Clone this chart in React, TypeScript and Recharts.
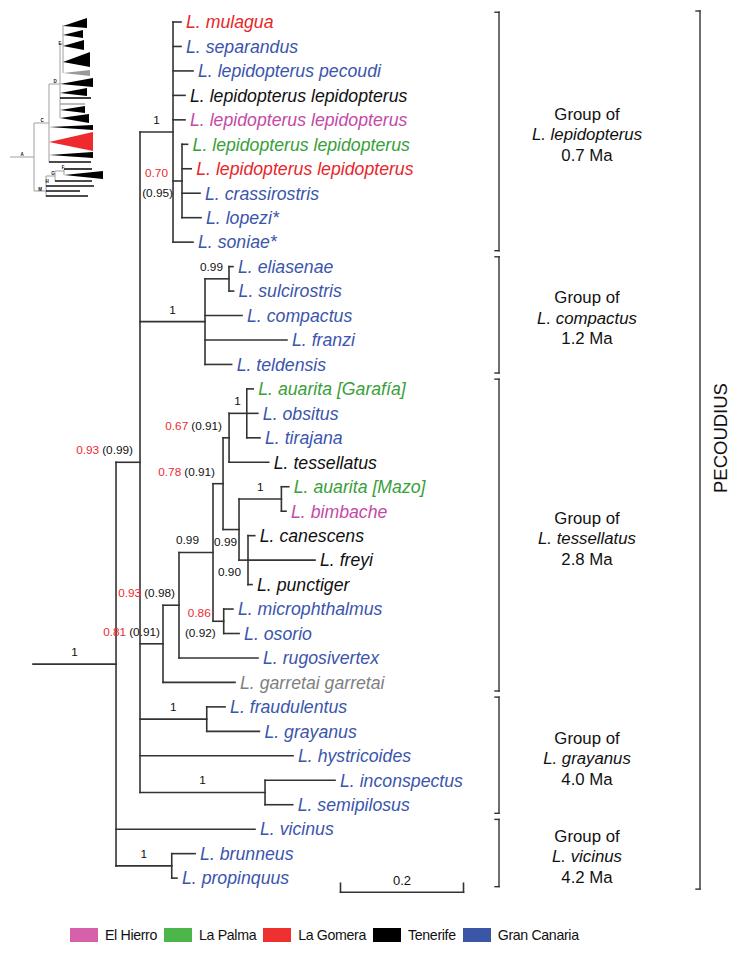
import React from 'react';
import { ComposedChart, XAxis, YAxis, ReferenceLine, Scatter, Legend } from 'recharts';

const W = 742;
const H = 959;
const FONT = "'Liberation Sans', Arial, Helvetica, sans-serif";

// ---------- islands ----------
const islandNames = ['El Hierro', 'La Palma', 'La Gomera', 'Tenerife', 'Gran Canaria'];
const islandSwatch = ['#d660a9', '#4cb64a', '#ee3130', '#000000', '#3a56a6'];
const islandText = ['#c44aa6', '#39a039', '#e8262b', '#111111', '#3b55ad'];
const otherText = '#808080';
const RED = '#ee2a2f';

// ---------- internal nodes (branch lengths, substitutions/site) ----------
const nodeIds = ['R', 'A', 'LEP', 'LEPs', 'COM', 'ELI', 'T1', 'T2', 'T3', 'T4', 'T5', 'T6', 'T7', 'T8', 'T9', 'T10', 'G1', 'G2', 'V1'];
const nodeParents = ['', 'R', 'A', 'LEP', 'A', 'COM', 'A', 'T1', 'T2', 'T3', 'T4', 'T5', 'T4', 'T7', 'T7', 'T3', 'A', 'A', 'R'];
const nodeLengths = [0.135, 0.039, 0.0537, 0.0146, 0.1057, 0.039, 0.0374, 0.026, 0.0553, 0.0163, 0.0098, 0.0288, 0.026, 0.0689, 0.0146, 0.0174, 0.1085, 0.2033, 0.0906];

// ---------- leaves ----------
const leafNames = [
  'L. mulagua', 'L. separandus', 'L. lepidopterus pecoudi', 'L. lepidopterus lepidopterus',
  'L. lepidopterus lepidopterus', 'L. lepidopterus lepidopterus', 'L. lepidopterus lepidopterus',
  'L. crassirostris', 'L. lopezi*', 'L. soniae*',
  'L. eliasenae', 'L. sulcirostris', 'L. compactus', 'L. franzi', 'L. teldensis',
  'L. auarita [Garafía]', 'L. obsitus', 'L. tirajana', 'L. tessellatus', 'L. auarita [Mazo]',
  'L. bimbache', 'L. canescens', 'L. freyi', 'L. punctiger', 'L. microphthalmus', 'L. osorio',
  'L. rugosivertex', 'L. garretai garretai',
  'L. fraudulentus', 'L. grayanus', 'L. hystricoides', 'L. inconspectus', 'L. semipilosus',
  'L. vicinus', 'L. brunneus', 'L. propinquus',
];
const leafParents = [
  'LEP', 'LEP', 'LEP', 'LEP', 'LEP', 'LEPs', 'LEPs', 'LEPs', 'LEPs', 'LEP',
  'ELI', 'ELI', 'COM', 'COM', 'COM',
  'T6', 'T6', 'T6', 'T5', 'T8', 'T8', 'T9', 'T9', 'T9', 'T10', 'T10', 'T2', 'T1',
  'G1', 'G1', 'A', 'G2', 'G2', 'R', 'V1', 'V1',
];
const leafLengths = [
  0.013, 0.013, 0.0325, 0.0195, 0.0195, 0.009, 0.015, 0.0293, 0.0309, 0.0325,
  0.0065, 0.0075, 0.0602, 0.1333, 0.0433,
  0.0105, 0.018, 0.0215, 0.0645, 0.012, 0.0075, 0.011, 0.1089, 0.0065, 0.015, 0.025, 0.1285, 0.1171,
  0.0298, 0.0856, 0.2488, 0.1138, 0.045, 0.226, 0.038, 0.0085,
];
// index into islandNames, -1 = not in legend (grey)
const leafIslands = [
  2, 4, 4, 3, 0, 1, 2, 4, 4, 4,
  4, 4, 4, 4, 4,
  1, 4, 4, 3, 1, 0, 3, 3, 3, 4, 4, 4, -1,
  4, 4, 4, 4, 4, 4, 4, 4,
];

// ---------- node supports ----------
const supportNodes = ['R', 'A', 'LEP', 'LEPs', 'COM', 'ELI', 'T1', 'T2', 'T3', 'T4', 'T5', 'T6', 'T7', 'T8', 'T9', 'T10', 'G1', 'G2', 'V1'];
const supportRed = ['', '0.93', '', '0.70', '', '', '0.81', '0.93', '', '0.78', '0.67', '', '', '', '', '0.86', '', '', ''];
const supportBlack = ['1', '(0.99)', '1', '(0.95)', '1', '0.99', '(0.91)', '(0.98)', '0.99', '(0.91)', '(0.91)', '1', '0.99', '1', '0.90', '(0.92)', '1', '1', '1'];
// placement style of each support label
const supportPlace = ['mid', 'above', 'mid', 'stack', 'mid', 'above', 'above', 'above', 'above', 'above', 'above', 'above', 'below', 'mid', 'below', 'stack', 'mid', 'mid', 'mid'];
const supportGap = [0, 7, 0, 14, 0, 6, 3, 4, 14, 8, 7, 6, 2, 0, 7, 13, 0, 0, 0];

// ---------- groups ----------
const groupNames = ['L. lepidopterus', 'L. compactus', 'L. tessellatus', 'L. grayanus', 'L. vicinus'];
const groupAges = ['0.7 Ma', '1.2 Ma', '2.8 Ma', '4.0 Ma', '4.2 Ma'];
const groupFirst = [0, 10, 15, 28, 33];
const groupLast = [9, 14, 27, 32, 35];
const cladeName = 'PECOUDIUS';

// ---------- scale bar ----------
const scaleBarLength = 0.2;
const scaleBarStart = 0.5;

// ---------- axis mapping (layout) ----------
const PX_PER_UNIT = 615;
const ORIGIN_PX = 33;
const ROW_PX = 24.46;
const FIRST_ROW_PX = 22;
const X_MIN = -ORIGIN_PX / PX_PER_UNIT;
const X_MAX = (W - ORIGIN_PX) / PX_PER_UNIT;
const Y_MIN = -FIRST_ROW_PX / ROW_PX;
const Y_MAX = Y_MIN + H / ROW_PX;
const BRACKET_X = (499 - ORIGIN_PX) / PX_PER_UNIT;
const GROUP_TEXT_X = (587 - ORIGIN_PX) / PX_PER_UNIT;
const CLADE_BRACKET_X = (700 - ORIGIN_PX) / PX_PER_UNIT;
const CLADE_TEXT_X = (720 - ORIGIN_PX) / PX_PER_UNIT;
const SERIF = 4 / PX_PER_UNIT;
const SCALE_ROW = 35.58;
const SCALE_TICK = 0.37;

// ---------- thumbnail (overview tree) ----------
const thumbConnectors = [
  [10, 157, 34, 157], [34, 123, 34, 191], [34, 123, 49, 123], [49, 84, 49, 162], [49, 84, 60, 84],
  [60, 44, 60, 118], [60, 44, 63, 44], [63, 25, 63, 73],
  [34, 191, 46, 191], [46, 176, 46, 197], [46, 176, 55, 176], [55, 171, 55, 181], [55, 171, 64, 171], [64, 169, 64, 175],
];
const thumbTips = [
  [60, 98, 91, 98, '#111'], [60, 104, 85, 104, '#aaaaaa'], [49, 162, 91, 162, '#111'],
  [64, 169, 92, 169, '#111'], [55, 181, 92, 181, '#111'], [46, 186, 94, 186, '#111'],
  [46, 191, 80, 191, '#111'], [46, 196, 88, 196, '#111'],
];
const thumbTriangles = [
  [63, 26, 87, 18, 28, '#000'], [63, 35, 83, 30, 38, '#000'], [63, 46, 84, 40, 50, '#000'],
  [63, 62, 90, 52, 67, '#000'], [63, 73, 90, 70, 76, '#9a9a9a'],
  [60, 84, 93, 78, 87, '#000'], [60, 93, 87, 88, 96, '#000'], [60, 110, 85, 106, 113, '#000'],
  [60, 118, 89, 114, 123, '#000'], [49, 127, 93, 125, 130, '#000'], [49, 142, 93, 132, 151, '#ee2a2f'],
  [49, 155, 93, 152, 158, '#000'], [64, 175, 103, 171, 179, '#000'],
];
const thumbLetters = [
  [22, 154, 'A'], [42, 120, 'C'], [55, 81, 'D'], [60, 43, 'E'], [63, 167, 'F'], [53, 173, 'G'], [47, 181, 'H'], [40, 189, 'M'],
];
const TW = 110;
const TH = 205;

// ---------- layout of tree ----------
function buildTree() {
  const depth: Record<string, number> = {};
  nodeIds.forEach((id, i) => {
    const p = nodeParents[i];
    depth[id] = (p ? depth[p] : 0) + nodeLengths[i];
  });
  const rowMemo: Record<string, number> = {};
  const childRows = (id: string): number[] => {
    const rows: number[] = [];
    leafParents.forEach((p, i) => { if (p === id) rows.push(i); });
    nodeIds.forEach((n, i) => { if (nodeParents[i] === id) rows.push(rowOf(n)); });
    return rows;
  };
  const rowOf = (id: string): number => {
    if (rowMemo[id] !== undefined) return rowMemo[id];
    const rows = childRows(id);
    const r = (Math.min(...rows) + Math.max(...rows)) / 2;
    rowMemo[id] = r;
    return r;
  };
  nodeIds.forEach((id) => rowOf(id));

  const segs: { x1: number; y1: number; x2: number; y2: number }[] = [];
  nodeIds.forEach((id, i) => {
    const rows = childRows(id);
    segs.push({ x1: depth[id], y1: Math.min(...rows), x2: depth[id], y2: Math.max(...rows) });
    const pd = nodeParents[i] ? depth[nodeParents[i]] : 0;
    segs.push({ x1: pd, y1: rowMemo[id], x2: depth[id], y2: rowMemo[id] });
  });
  const leaves = leafNames.map((name, i) => {
    const pd = depth[leafParents[i]];
    const end = pd + leafLengths[i];
    segs.push({ x1: pd, y1: i, x2: end, y2: i });
    const isl = leafIslands[i];
    return { x: end, y: i, name, color: isl >= 0 ? islandText[isl] : otherText };
  });
  const supports = supportNodes.map((id, i) => {
    const idx = nodeIds.indexOf(id);
    const pd = nodeParents[idx] ? depth[nodeParents[idx]] : 0;
    const place = supportPlace[i];
    return {
      x: place === 'mid' ? (pd + depth[id]) / 2 : depth[id],
      y: rowMemo[id],
      red: supportRed[i],
      black: supportBlack[i],
      place,
      gap: supportGap[i],
    };
  });
  return { segs, leaves, supports };
}

const LeafShape = (p: any) => {
  const { cx, cy, payload } = p;
  return (
    <text x={cx + 5} y={cy + 6.3} fill={payload.color} fontSize={17.7} fontStyle="italic" fontFamily={FONT}>
      {payload.name}
    </text>
  );
};

const SupportShape = (p: any) => {
  const { cx, cy, payload } = p;
  const common = { fontSize: 11.8, fontFamily: FONT };
  if (payload.place === 'mid') {
    return <text x={cx} y={cy - 8} textAnchor="middle" fill="#111" {...common}>{payload.black}</text>;
  }
  if (payload.place === 'stack') {
    return (
      <g>
        <text x={cx - payload.gap} y={cy - 4} textAnchor="end" fill={RED} {...common}>{payload.red}</text>
        <text x={cx - payload.gap + 5} y={cy + 16} textAnchor="end" fill="#111" {...common}>{payload.black}</text>
      </g>
    );
  }
  const y = payload.place === 'below' ? cy + 16 : cy - 8;
  return (
    <text x={cx - payload.gap} y={y} textAnchor="end" {...common}>
      {payload.red ? <tspan fill={RED}>{payload.red}</tspan> : null}
      <tspan fill="#111" dx={payload.red ? 3 : 0}>{payload.black}</tspan>
    </text>
  );
};

const GroupShape = (p: any) => {
  const { cx, cy, payload } = p;
  const common = { fontSize: 16.8, fontFamily: FONT, fill: '#111', textAnchor: 'middle' as const };
  const c = cy + 3;
  return (
    <g>
      <text x={cx} y={c - 20.5 + 6} {...common}>Group of</text>
      <text x={cx} y={c + 6} fontStyle="italic" {...common}>{payload.name}</text>
      <text x={cx} y={c + 20.5 + 6} {...common}>{payload.age}</text>
    </g>
  );
};

const CladeShape = (p: any) => {
  const { cx, cy, payload } = p;
  const y = cy - 12;
  return (
    <text x={cx} y={y + 6.6} transform={`rotate(-90, ${cx}, ${y})`} textAnchor="middle" fontSize={18.5} fontFamily={FONT} fill="#111">
      {payload.name}
    </text>
  );
};

const ScaleLabelShape = (p: any) => {
  const { cx, cy, payload } = p;
  return <text x={cx} y={cy - 7} textAnchor="middle" fontSize={13} fontFamily={FONT} fill="#111">{payload.label}</text>;
};

const LegendContent = () => (
  <div style={{ display: 'flex', alignItems: 'center', paddingLeft: 70, height: 20 }}>
    {islandNames.map((n, i) => (
      <div key={n} style={{ display: 'flex', alignItems: 'center', marginRight: 7 }}>
        <span style={{ display: 'inline-block', width: 28, height: 14, background: islandSwatch[i], marginRight: 7 }} />
        <span style={{ fontFamily: FONT, fontSize: 14.2, letterSpacing: -0.35, color: '#111', lineHeight: '20px' }}>{n}</span>
      </div>
    ))}
  </div>
);

const TriShape = (p: any) => {
  const { cx, cy, payload } = p;
  const kx = TW / TW;
  const ky = TH / TH;
  const rx = cx + (payload.rx - payload.x) * kx;
  const ty = cy + (payload.top - payload.y) * ky;
  const by = cy + (payload.bottom - payload.y) * ky;
  return <polygon points={`${cx},${cy} ${rx},${ty} ${rx},${by}`} fill={payload.color} />;
};

const LetterShape = (p: any) => {
  const { cx, cy, payload } = p;
  return <text x={cx} y={cy + 1.5} textAnchor="middle" fontSize={4.5} fontWeight="bold" fontFamily={FONT} fill="#111">{payload.t}</text>;
};

export default function App() {
  const { segs, leaves, supports } = buildTree();

  const bracketSegs: { x1: number; y1: number; x2: number; y2: number }[] = [];
  const groupData = groupNames.map((name, i) => {
    const top = groupFirst[i] - 0.4;
    const bot = groupLast[i] + 0.35;
    bracketSegs.push({ x1: BRACKET_X, y1: top, x2: BRACKET_X, y2: bot });
    bracketSegs.push({ x1: BRACKET_X - SERIF, y1: top, x2: BRACKET_X, y2: top });
    bracketSegs.push({ x1: BRACKET_X - SERIF, y1: bot, x2: BRACKET_X, y2: bot });
    return { x: GROUP_TEXT_X, y: (top + bot) / 2, name, age: groupAges[i] };
  });
  const cTop = groupFirst[0] - 0.45;
  const cBot = groupLast[groupLast.length - 1] + 0.45;
  bracketSegs.push({ x1: CLADE_BRACKET_X, y1: cTop, x2: CLADE_BRACKET_X, y2: cBot });
  bracketSegs.push({ x1: CLADE_BRACKET_X - SERIF, y1: cTop, x2: CLADE_BRACKET_X, y2: cTop });
  bracketSegs.push({ x1: CLADE_BRACKET_X - SERIF, y1: cBot, x2: CLADE_BRACKET_X, y2: cBot });
  const cladeData = [{ x: CLADE_TEXT_X, y: (cTop + cBot) / 2, name: cladeName }];

  const scaleSegs = [
    { x1: scaleBarStart, y1: SCALE_ROW, x2: scaleBarStart + scaleBarLength, y2: SCALE_ROW },
    { x1: scaleBarStart, y1: SCALE_ROW - SCALE_TICK, x2: scaleBarStart, y2: SCALE_ROW },
    { x1: scaleBarStart + scaleBarLength, y1: SCALE_ROW - SCALE_TICK, x2: scaleBarStart + scaleBarLength, y2: SCALE_ROW },
  ];
  const scaleLabel = [{ x: scaleBarStart + scaleBarLength / 2, y: SCALE_ROW, label: String(scaleBarLength) }];

  const triData = thumbTriangles.map((t) => ({ x: t[0], y: t[1], rx: t[2], top: t[3], bottom: t[4], color: t[5] }));
  const letterData = thumbLetters.map((l) => ({ x: l[0], y: l[1], t: l[2] }));

  return (
    <div style={{ position: 'absolute', left: 0, top: 0, width: W, height: H, background: '#fff' }}>
      <ComposedChart width={W} height={H} margin={{ top: 0, right: 0, bottom: 0, left: 0 }}>
        <XAxis type="number" dataKey="x" domain={[X_MIN, X_MAX]} hide allowDataOverflow />
        <YAxis type="number" dataKey="y" domain={[Y_MIN, Y_MAX]} reversed hide allowDataOverflow />
        {segs.map((s, i) => (
          <ReferenceLine key={'b' + i} segment={[{ x: s.x1, y: s.y1 }, { x: s.x2, y: s.y2 }]} stroke="#333" strokeWidth={1.6} strokeLinecap="square" ifOverflow="visible" />
        ))}
        {bracketSegs.map((s, i) => (
          <ReferenceLine key={'k' + i} segment={[{ x: s.x1, y: s.y1 }, { x: s.x2, y: s.y2 }]} stroke="#333" strokeWidth={1.4} strokeLinecap="square" ifOverflow="visible" />
        ))}
        {scaleSegs.map((s, i) => (
          <ReferenceLine key={'s' + i} segment={[{ x: s.x1, y: s.y1 }, { x: s.x2, y: s.y2 }]} stroke="#333" strokeWidth={1.6} strokeLinecap="square" ifOverflow="visible" />
        ))}
        <Scatter data={leaves} shape={LeafShape} isAnimationActive={false} />
        <Scatter data={supports} shape={SupportShape} isAnimationActive={false} />
        <Scatter data={groupData} shape={GroupShape} isAnimationActive={false} />
        <Scatter data={cladeData} shape={CladeShape} isAnimationActive={false} />
        <Scatter data={scaleLabel} shape={ScaleLabelShape} isAnimationActive={false} />
        <Legend
          layout="horizontal"
          verticalAlign="middle"
          align="center"
          wrapperStyle={{ top: 925, left: 0, width: W, height: 20 }}
          content={() => <LegendContent />}
        />
      </ComposedChart>
      <div style={{ position: 'absolute', left: 0, top: 0 }}>
        <ComposedChart width={TW} height={TH} margin={{ top: 0, right: 0, bottom: 0, left: 0 }}>
          <XAxis type="number" dataKey="x" domain={[0, TW]} hide allowDataOverflow />
          <YAxis type="number" dataKey="y" domain={[0, TH]} reversed hide allowDataOverflow />
          {thumbConnectors.map((c, i) => (
            <ReferenceLine key={'tc' + i} segment={[{ x: c[0], y: c[1] }, { x: c[2], y: c[3] }]} stroke="#a0a0a0" strokeWidth={1} ifOverflow="visible" />
          ))}
          {thumbTips.map((c, i) => (
            <ReferenceLine key={'tt' + i} segment={[{ x: c[0] as number, y: c[1] as number }, { x: c[2] as number, y: c[3] as number }]} stroke={c[4] as string} strokeWidth={1.6} ifOverflow="visible" />
          ))}
          <Scatter data={triData} shape={TriShape} isAnimationActive={false} />
          <Scatter data={letterData} shape={LetterShape} isAnimationActive={false} />
        </ComposedChart>
      </div>
    </div>
  );
}
